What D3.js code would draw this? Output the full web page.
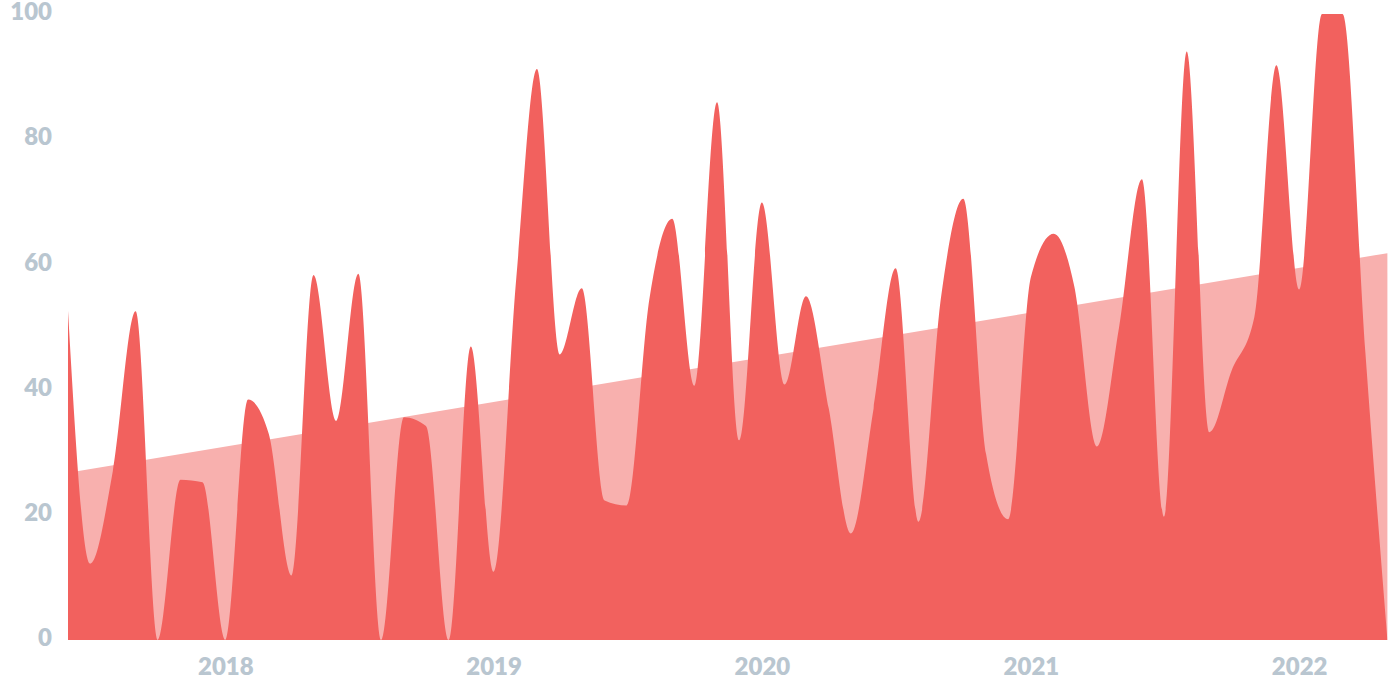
<!DOCTYPE html>
<html>
  <head>
    <meta charset="utf-8">
    <script src="https://d3js.org/d3.v7.min.js" charset="utf-8"></script>
    <style>
      body { margin: 0; background: #fff; }
      .axis text { font-family: Lato, "Open Sans", sans-serif; font-weight: 800; font-size: 24px; fill: #b9c6d0; }
    </style>
    <title>D3.js</title>
  </head>
  <body>
    <script>
var months = [
  "2017-06","2017-07","2017-08","2017-09","2017-10","2017-11","2017-12",
  "2018-01","2018-02","2018-03","2018-04","2018-05","2018-06","2018-07","2018-08","2018-09","2018-10","2018-11","2018-12",
  "2019-01","2019-02","2019-03","2019-04","2019-05","2019-06","2019-07","2019-08","2019-09","2019-10","2019-11","2019-12",
  "2020-01","2020-02","2020-03","2020-04","2020-05","2020-06","2020-07","2020-08","2020-09","2020-10","2020-11","2020-12",
  "2021-01","2021-02","2021-03","2021-04","2021-05","2021-06","2021-07","2021-08","2021-09","2021-10","2021-11","2021-12",
  "2022-01","2022-02","2022-03","2022-04","2022-05"
];
var values = [
  52.6, 12.2, 27, 52.5, 0, 25.6, 25.2,
  0, 38.4, 33, 10.3, 58.3, 35, 58.5, 0, 35.6, 34.2, 0, 46.9,
  10.9, 58, 91.2, 45.6, 56.2, 22.3, 21.5, 54.5, 67.3, 40.6, 85.9, 31.9,
  69.9, 40.8, 54.9, 37, 17, 37, 59.4, 18.9, 55, 70.5, 29.7, 19.3,
  58, 64.9, 56.5, 30.9, 50, 73.6, 19.7, 94, 33.2, 43, 51.6, 91.8,
  56, 100, 100, 46, 0
];
var trend = [26.7, 61.8];
var yTicks = [0, 20, 40, 60, 80, 100];
var yearTicks = ["2018", "2019", "2020", "2021", "2022"];

var width = 1392,
    height = 696,
    plotLeft = 68, plotRight = 1387.4, plotTop = 14, plotBottom = 640;

var parseMonth = d3.timeParse("%Y-%m");
var parseYear = d3.timeParse("%Y");
var dates = months.map(parseMonth);

var x = d3.scaleTime()
    .domain([dates[0], dates[dates.length - 1]])
    .range([plotLeft, plotRight]);
var y = d3.scaleLinear()
    .domain([0, 100])
    .range([plotBottom, plotTop]);

var svg = d3.select("body").append("svg")
    .attr("width", width)
    .attr("height", height);

svg.append("clipPath").attr("id", "plot")
  .append("rect")
    .attr("x", plotLeft).attr("y", plotTop)
    .attr("width", plotRight - plotLeft).attr("height", plotBottom - plotTop);

// trend band behind
var trendData = [
  { d: dates[0], v: trend[0] },
  { d: dates[dates.length - 1], v: trend[1] }
];
svg.append("path")
    .datum(trendData)
    .attr("fill", "#f8b0ae")
    .attr("d", d3.area()
      .x(function (p) { return x(p.d); })
      .y0(y(0))
      .y1(function (p) { return y(p.v); }));

// main series
svg.append("path")
    .datum(values)
    .attr("clip-path", "url(#plot)")
    .attr("fill", "#f2615e")
    .attr("d", d3.area()
      .curve(d3.curveMonotoneX)
      .x(function (v, i) { return x(dates[i]); })
      .y0(y(0))
      .y1(function (v) { return y(v); }));

var yAxis = svg.append("g")
    .attr("class", "axis")
    .attr("transform", "translate(52,0)")
    .call(d3.axisLeft(y).tickValues(yTicks).tickSize(0).tickPadding(0));
yAxis.select(".domain").remove();
yAxis.selectAll("text").attr("x", 0).attr("y", 0).attr("dy", "0.24em");

var xAxis = svg.append("g")
    .attr("class", "axis")
    .attr("transform", "translate(0," + plotBottom + ")")
    .call(d3.axisBottom(x)
      .tickValues(yearTicks.map(parseYear))
      .tickFormat(d3.timeFormat("%Y"))
      .tickSize(0).tickPadding(0));
xAxis.select(".domain").remove();
xAxis.selectAll("text").attr("dy", 0).attr("y", 35);
    </script>
  </body>
</html>
